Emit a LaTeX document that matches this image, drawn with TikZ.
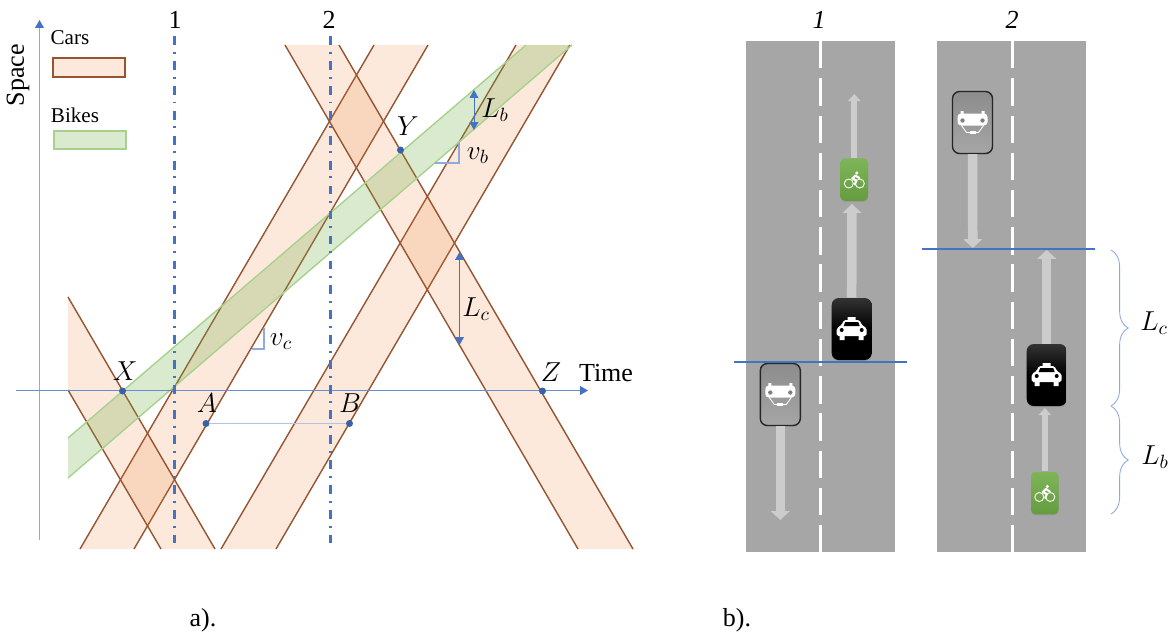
\documentclass[tikz,border=0pt]{standalone}
\usepackage{fix-cm}
\usepackage{fontspec}
\setmainfont{Liberation Serif}
\usepackage{xcolor}
\usetikzlibrary{arrows.meta, decorations.pathreplacing, shadows}
\definecolor{axisblue}{RGB}{68, 114, 196}
\definecolor{lightblue}{RGB}{143, 170, 220}
\definecolor{carfillc}{RGB}{237, 125, 49}
\definecolor{caredgec}{RGB}{150, 84, 48}
\definecolor{bikefillc}{RGB}{112, 173, 71}
\definecolor{bikeedgec}{RGB}{169, 209, 142}
\definecolor{roadgray}{RGB}{166, 166, 166}
\definecolor{arrowgray}{RGB}{204, 204, 204}
\tikzset{
  taxiicon/.pic={
    \fill[white, rounded corners=1pt] (-15,7) -- (-15,-1) -- (-10,-4) -- (-8,-9) -- (8,-9) -- (10,-4) -- (15,-1) -- (15,7) -- cycle;
    \fill[white] (-4,-12) rectangle (4,-8) (-12,6) rectangle (-7,11) (7,6) rectangle (12,11);
    \fill[black] (-6.5,-7) -- (6.5,-7) -- (8,-3) -- (-8,-3) -- cycle;
    \fill[black] (-10,1) circle (2) (10,1) circle (2);
  },
  backicon/.pic={
    \fill[white] (-12,-11.5) rectangle (-9,-7) (9,-11.5) rectangle (12,-7);
    \fill[white, rounded corners=2pt] (-15,-9) rectangle (15,3);
    \draw[white, line width=0.5pt] (-11,3) -- (-6,10) -- (6,10) -- (11,3);
    \fill[white] (-3,8.5) rectangle (3,11);
    \fill[gray] (-10,-2) circle (2.2) (10,-2) circle (2.2);
  },
  bikeicon/.pic={
    \draw[white, line width=0.5pt] (-5.5,4) circle (4.5) (5.5,4) circle (4.5);
    \draw[white, line width=1.2pt, line cap=round, line join=round] (0.5,5) -- (2,1) -- (-2,-1) -- (1,-4) -- (5,-1.5);
    \fill[white] (2.5,-6.5) circle (1.8);
  }
}
\begin{document}
\begin{tikzpicture}[
  x=0.02cm, y=-0.02cm, >=Triangle,
  carband/.style={fill=carfillc, fill opacity=0.17},
  caredge/.style={draw=caredgec, line width=0.8pt},
  bikeband/.style={fill=bikefillc, fill opacity=0.26},
  bikeedge/.style={draw=bikeedgec, line width=0.8pt},
  timeline/.style={draw=axisblue, line width=1.4pt, dash pattern=on 5pt off 3.9pt on 1.1pt off 4.2pt},
  axisline/.style={draw=lightblue, line width=0.6pt, -{Triangle[width=5pt,length=4.5pt,color=axisblue]}},
  dimline/.style={draw=axisblue, line width=0.5pt, {Triangle[width=5pt,length=4.5pt]}-{Triangle[width=5pt,length=4.5pt]}},
  ptdot/.style={circle, fill=axisblue!85!black, inner sep=0pt, minimum size=0.14cm},
  lab/.style={font=\fontsize{14.8}{18}\selectfont, inner sep=0pt},
  mlab/.style={font=\fontsize{15.6}{19}\selectfont, inner sep=0pt},
  small/.style={font=\large, inner sep=0pt},
  road/.style={fill=roadgray},
  centre/.style={draw=white, line width=1.7pt, dash pattern=on 15.6pt off 5.6pt},
  split/.style={draw=axisblue, line width=1.2pt},
  softshadow/.style={drop shadow={shadow xshift=0pt, shadow yshift=-0.7pt, opacity=0.3}},
  taxi/.style={softshadow, rounded corners=4pt, minimum width=0.8cm, minimum height=1.24cm, inner sep=0pt, top color=black!80, bottom color=black, middle color=black},
  oncoming/.style={softshadow, draw=black!85, line width=0.8pt, rounded corners=4pt, minimum width=0.8cm, minimum height=1.24cm, inner sep=0pt, top color=black!45, bottom color=black!35},
  bike/.style={softshadow, rounded corners=2.5pt, minimum width=0.55cm, minimum height=0.85cm, inner sep=0pt, top color=bikefillc!90!white, bottom color=bikefillc!90!black},
  bigflow/.style={draw=arrowgray, line width=5.4pt, -{Triangle[width=10.5pt,length=5pt]}},
  thinflow/.style={draw=arrowgray, line width=3.6pt, -{Triangle[width=7pt,length=4pt]}},
  brc/.style={draw=lightblue, line width=0.5pt, decorate, decoration={brace, amplitude=9.8pt}}
]
  \useasboundingbox (0,0) rectangle (1173,637);

  % a) bands
  \fill[carband] (80,549) -- (374,45) -- (428,45) -- (134,549) -- cycle;
  \draw[caredge] (80,549) -- (374,45) (134,549) -- (428,45);
  \fill[carband] (221,549) -- (516,45) -- (570,45) -- (276,549) -- cycle;
  \draw[caredge] (221,549) -- (516,45) (276,549) -- (570,45);
  \fill[carband] (68,297) -- (215,549) -- (161,549) -- (68,390) -- cycle;
  \draw[caredge] (68,297) -- (215,549) (68,390) -- (161,549);
  \fill[carband] (285,45) -- (578,549) -- (633,549) -- (339,45) -- cycle;
  \draw[caredge] (285,45) -- (578,549) (339,45) -- (633,549);
  \fill[bikeband] (68,438) -- (526,45) -- (572,45) -- (68,478) -- cycle;
  \draw[bikeedge] (68,438) -- (526,45) (68,478) -- (572,45);

  % axes
  \coordinate (s0) at (39.5,540);
  \coordinate (s1) at (39.5,20);
  \coordinate (t0) at (16,390.5);
  \coordinate (t1) at (588,390.5);
  \draw[axisline] (s0) -- (s1);
  \draw[axisline, draw=axisblue!80] (t0) -- (t1);
  \node[lab, rotate=90] (spacelab) at (18,75) {Space};
  \node[lab] (timelab) at (606,373) {Time};

  % legend
  \node[small] (carslab) at (70,38) {Cars};
  \fill[carband] (53,58) rectangle (125,77);
  \draw[caredge] (53,58) rectangle (125,77);
  \node[small] (bikeslab) at (75,115) {Bikes};
  \fill[bikeband] (54,131) rectangle (126,149);
  \draw[bikeedge] (54,131) rectangle (126,149);

  % time sections
  \coordinate (c1a) at (174.5,36);
  \coordinate (c1b) at (174.5,543);
  \coordinate (c2a) at (330.5,36);
  \coordinate (c2b) at (330.5,543);
  \draw[timeline] (c1a) -- (c1b);
  \draw[timeline] (c2a) -- (c2b);
  \node[lab] (n1) at (175,20) {1};
  \node[lab] (n2) at (329,20) {2};

  % points
  \node[ptdot] (ptX) at (122.5,391) {};
  \node[ptdot] (ptA) at (206,423.5) {};
  \node[ptdot] (ptB) at (349.5,423.5) {};
  \node[ptdot] (ptY) at (400.5,150) {};
  \node[ptdot] (ptZ) at (542.5,391) {};
  \draw[draw=lightblue!70, line width=1pt] (ptA) -- (ptB);
  \node[mlab] (labX) at (125,371) {$X$};
  \node[mlab] (labA) at (207,403) {$A$};
  \node[mlab] (labB) at (350,403) {$B$};
  \node[mlab] (labY) at (408,126) {$Y$};
  \node[mlab] (labZ) at (551,372) {$Z$};

  % speeds and lengths
  \draw[draw=lightblue, line width=0.6pt] (252,349) -- (264,349) -- (264,328);
  \draw[draw=lightblue, line width=0.6pt] (435,163) -- (459,163) -- (459,143);
  \node[mlab] (labvc) at (281,342) {$v_c$};
  \node[mlab] (labvb) at (478,156) {$v_b$};
  \coordinate (lb0) at (474,90);
  \coordinate (lb1) at (474,130);
  \coordinate (lc0) at (459.5,252);
  \coordinate (lc1) at (459.5,345);
  \draw[dimline] (lb0) -- (lb1);
  \draw[dimline] (lc0) -- (lc1);
  \node[mlab] (labLb) at (495,110) {$L_b$};
  \node[mlab] (labLc) at (476,309) {$L_c$};

  % b) roads
  \fill[road] (746,41) rectangle (895,552);
  \fill[road] (937,41) rectangle (1086,552);
  \coordinate (m1a) at (820.5,41);
  \coordinate (m1b) at (820.5,552);
  \coordinate (m2a) at (1012,41);
  \coordinate (m2b) at (1012,552);
  \draw[centre] (m1a) -- (m1b);
  \draw[centre] (m2a) -- (m2b);
  \node[lab] (r1) at (819,20) {\itshape 1};
  \node[lab] (r2) at (1012,20) {\itshape 2};

  % vehicles, road 1
  \node[bike] (bike1) at (854.3,179.5) {};
  \node[taxi] (taxi1) at (851.7,329) {};
  \node[oncoming] (car1) at (780.3,394.5) {};
  \coordinate (tipb1) at (854.3,94);
  \coordinate (tipt1) at (852,204);
  \coordinate (tipc1) at (780.3,520);
  \draw[thinflow] (bike1.north) -- (tipb1);
  \draw[bigflow] (taxi1.north) -- (tipt1);
  \draw[bigflow] (car1.south) -- (tipc1);
  \pic at (bike1) {bikeicon};
  \pic at (taxi1) {taxiicon};
  \pic at (car1) {backicon};

  % vehicles, road 2
  \node[bike] (bike2) at (1044.8,493) {};
  \node[taxi] (taxi2) at (1046.7,375) {};
  \node[oncoming] (car2) at (972.5,122.5) {};
  \coordinate (tipb2) at (1044.8,408);
  \coordinate (tipt2) at (1046.7,250);
  \coordinate (tipc2) at (972.8,248);
  \draw[thinflow] (bike2.north) -- (tipb2);
  \draw[bigflow] (taxi2.north) -- (tipt2);
  \draw[bigflow] (car2.south) -- (tipc2);
  \pic at (bike2) {bikeicon};
  \pic at (taxi2) {taxiicon};
  \pic at (car2) {backicon};

  % front lines
  \coordinate (f1a) at (734,361.7);
  \coordinate (f1b) at (907,361.7);
  \coordinate (f2a) at (922,248.7);
  \coordinate (f2b) at (1095,248.7);
  \draw[split] (f1a) -- (f1b);
  \draw[split] (f2a) -- (f2b);

  % braces
  \coordinate (b0) at (1111,250);
  \coordinate (b1) at (1111,406);
  \coordinate (b2) at (1111,514);
  \draw[brc] (b0) -- (b1);
  \draw[brc] (b1) -- (b2);
  \node[mlab] (labLc2) at (1154,323) {$L_c$};
  \node[mlab] (labLb2) at (1155,457) {$L_b$};

  % captions
  \node[lab] (capa) at (203,620) {a).};
  \node[lab] (capb) at (737,620) {b).};
\end{tikzpicture}
\end{document}
